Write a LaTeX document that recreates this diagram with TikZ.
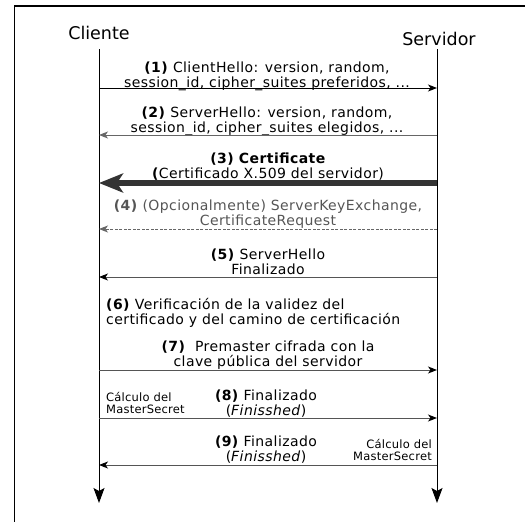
\documentclass[tikz,border=0pt]{standalone}
\usepackage{fontspec}
\setmainfont{DejaVu Sans}
\newfontfamily\msgfont[LetterSpace=3]{DejaVu Sans}
\newfontfamily\sidefont[LetterSpace=2]{DejaVu Sans}
\usetikzlibrary{arrows.meta}
\definecolor{lgray}{HTML}{666666}
\definecolor{dgray}{HTML}{333333}
\definecolor{tgray}{HTML}{555555}
\tikzset{
  msg/.style={inner sep=0pt, align=center, font=\msgfont\fontsize{14}{15}\selectfont},
  side/.style={inner sep=0pt, font=\sidefont\fontsize{11.5}{12.5}\selectfont},
  head/.style={inner sep=0pt, font=\fontsize{17.5}{20}\selectfont},
  tip/.style={-{Stealth[length=9pt,width=7pt,inset=2.5pt]}},
  life/.style={line width=1pt, -{Stealth[length=15pt,width=11pt,inset=3pt]}},
  arr/.style={line width=1pt, tip},
  garr/.style={line width=1pt, draw=tgray, -{Stealth[length=9pt,width=7pt,inset=2.5pt,color=black]}},
}
\begin{document}
\begin{tikzpicture}[x=1pt,y=-1pt]
\useasboundingbox (0,0) rectangle (525,522);
\draw[line width=1.5pt] (14.5,530) -- (14.5,6) -- (530,6);

\node[head] (cli) at (99,33) {Cliente};
\node[head] (srv) at (439,39) {Servidor};

\coordinate (ct) at (99,49);  \coordinate (cb) at (99,503);
\coordinate (st) at (437,49); \coordinate (sb) at (437,503);
\draw[life] (ct) -- (cb);
\draw[life] (st) -- (sb);

% (1)
\node[msg] (t1) at (267,76) {\textbf{(1)} ClientHello: version, random,\\session\_id, cipher\_suites preferidos, ...};
\coordinate (c1) at (99,88); \coordinate (s1) at (437,88);
\draw[arr] (c1) -- (s1);

% (2)
\node[msg] (t2) at (267,121) {\textbf{(2)} ServerHello: version, random,\\session\_id, cipher\_suites elegidos, ...};
\coordinate (c2) at (99,135); \coordinate (s2) at (437,135);
\draw[line width=1pt, draw=lgray, -{Stealth[length=9pt,width=7pt,inset=2.5pt,fill=lgray]}] (s2) -- (c2);

% (3)
\node[msg] (t3) at (268,167) {\textbf{(3) Certificate}\\\textbf{(}Certificado X.509 del servidor)};
\coordinate (c3) at (99,183); \coordinate (s3) at (437,183);
\draw[line width=5.5pt, draw=dgray, -{Stealth[length=24pt,width=19pt,inset=6pt]}] (s3) -- (c3);

% (4)
\node[msg, text=tgray] (t4) at (268,214) {\textbf{(4)} (Opcionalmente) ServerKeyExchange,\\CertificateRequest};
\coordinate (c4) at (99,229); \coordinate (s4) at (437,229);
\draw[line width=1pt, draw=lgray, dash pattern=on 3pt off 1.5pt, -{Stealth[length=9pt,width=7pt,inset=2.5pt,fill=lgray]}] (s4) -- (c4);

% (5)
\node[msg] (t5) at (268,262) {\textbf{(5)} ServerHello\\Finalizado};
\coordinate (c5) at (99,277); \coordinate (s5) at (437,277);
\draw[garr] (s5) -- (c5);

% (6)
\node[msg, align=left, anchor=west] (t6) at (106,313) {\textbf{(6)} Verificación de la validez del\\certificado y del camino de certificación};

% (7)
\node[msg] (t7) at (268,355) {\textbf{(7)}\ \ Premaster cifrada con la\\clave pública del servidor};
\coordinate (c7) at (99,370); \coordinate (s7) at (437,370);
\draw[garr] (c7) -- (s7);

% (8)
\node[side, align=left, anchor=west] (k8) at (106,403) {Cálculo del\\MasterSecret};
\node[msg] (t8) at (266,404) {\textbf{(8)} Finalizado\\(\textit{Finisshed})};
\coordinate (c8) at (99,418); \coordinate (s8) at (437,418);
\draw[garr] (c8) -- (s8);

% (9)
\node[msg] (t9) at (266,450) {\textbf{(9)} Finalizado\\(\textit{Finisshed})};
\node[side, align=right, anchor=east] (k9) at (432,450) {Cálculo del\\MasterSecret};
\coordinate (c9) at (99,465); \coordinate (s9) at (437,465);
\draw[garr] (s9) -- (c9);
\end{tikzpicture}
\end{document}
